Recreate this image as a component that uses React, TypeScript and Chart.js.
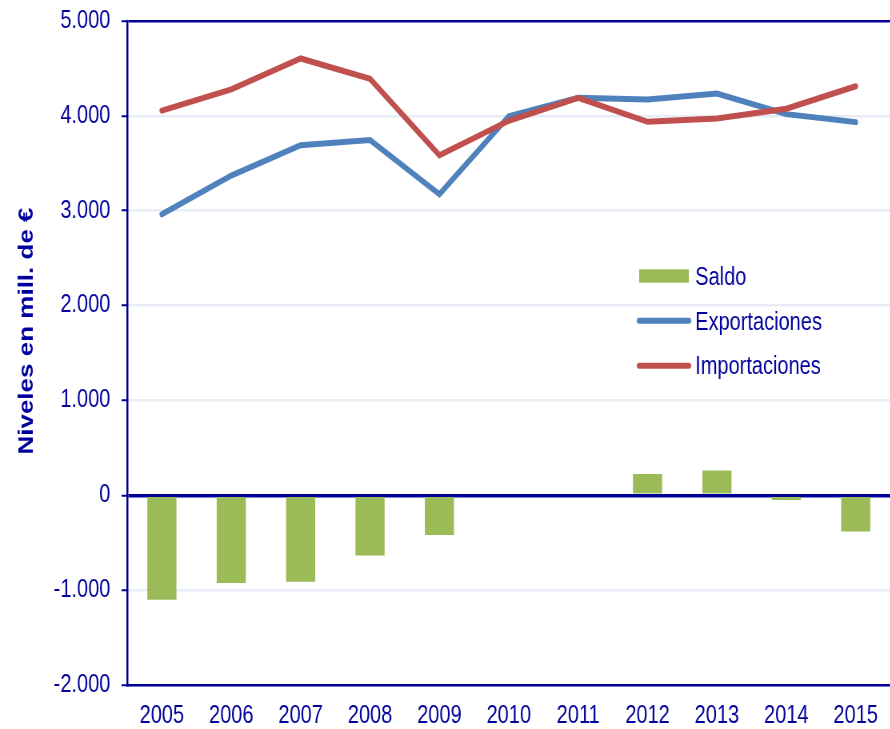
import React, { useEffect, useRef } from 'react';
import { Chart, registerables } from 'chart.js';

Chart.register(...registerables);

// ---- data ----
const years = ['2005', '2006', '2007', '2008', '2009', '2010', '2011', '2012', '2013', '2014', '2015'];
const saldo = [-1100, -925, -912, -636, -418, 20, 0, 225, 260, -50, -383];
const exportaciones = [2962, 3370, 3690, 3745, 3173, 3995, 4190, 4172, 4236, 4018, 3934];
const importaciones = [4055, 4280, 4605, 4390, 3584, 3948, 4190, 3937, 3972, 4075, 4312];
const seriesNames = ['Saldo', 'Exportaciones', 'Importaciones'];
const yMin = -2000;
const yMax = 5000;
const yStep = 1000;
const yTitle = 'Niveles en mill. de €';

// ---- styling ----
const SX = 0.8; // the reference is horizontally condensed
const OUT_W = 890;
const OUT_H = 729;
const W = Math.round(OUT_W / SX);
const H = OUT_H;
const FONT = '"Liberation Sans", Arial, Helvetica, sans-serif';
const AXIS = '#000099';
const TEXT = '#00009C';
const GRID = '#E8EDF5';
const GREEN = '#9BBB59';
const BLUE = '#4F81BD';
const RED = '#C0504D';

const fmt = (v: number) => {
  const s = Math.abs(v).toString().replace(/\B(?=(\d{3})+(?!\d))/g, '.');
  return (v < 0 ? '-' : '') + s;
};

const decorPlugin = {
  id: 'decor',
  afterDraw(chart: any) {
    const ctx = chart.ctx;
    ctx.save();
    // y axis title
    ctx.save();
    ctx.translate(41, 331);
    ctx.rotate(-Math.PI / 2);
    ctx.font = `bold 26px ${FONT}`;
    ctx.fillStyle = TEXT;
    ctx.textAlign = 'center';
    ctx.textBaseline = 'alphabetic';
    ctx.fillText(yTitle, 0, 0);
    ctx.restore();

    // legend inside the plot
    const rows = [
      { mid: 276, base: 285 },
      { mid: 320.7, base: 329.5 },
      { mid: 365.7, base: 374 },
    ];
    const x0 = 799;
    const x1 = 861;
    chart.data.datasets.forEach((ds: any, i: number) => {
      const r = rows[i];
      if (!r) return;
      if (ds.type === 'bar' || !ds.type) {
        ctx.fillStyle = ds.backgroundColor;
        ctx.fillRect(x0, r.mid - 6.7, x1 - x0, 13.4);
      } else {
        ctx.strokeStyle = ds.borderColor;
        ctx.lineWidth = 6;
        ctx.lineCap = 'round';
        ctx.beginPath();
        ctx.moveTo(x0, r.mid);
        ctx.lineTo(x1, r.mid);
        ctx.stroke();
      }
      ctx.font = `25px ${FONT}`;
      ctx.fillStyle = TEXT;
      ctx.textAlign = 'left';
      ctx.textBaseline = 'alphabetic';
      ctx.fillText(ds.label, 869, r.base);
    });
    ctx.restore();
  },
};

export default function App() {
  const ref = useRef<HTMLCanvasElement | null>(null);

  useEffect(() => {
    document.body.style.margin = '0';
    if (!ref.current) return;
    const chart = new Chart(ref.current, {
      type: 'bar',
      data: {
        labels: years,
        datasets: [
          {
            type: 'bar',
            label: seriesNames[0],
            data: saldo,
            backgroundColor: GREEN,
            borderWidth: 0,
            barPercentage: 0.42,
            categoryPercentage: 1,
            order: 3,
          },
          {
            type: 'line',
            label: seriesNames[1],
            data: exportaciones,
            borderColor: BLUE,
            backgroundColor: BLUE,
            borderWidth: 6,
            borderCapStyle: 'round',
            pointRadius: 0,
            tension: 0,
            order: 2,
          },
          {
            type: 'line',
            label: seriesNames[2],
            data: importaciones,
            borderColor: RED,
            backgroundColor: RED,
            borderWidth: 6,
            borderCapStyle: 'round',
            pointRadius: 0,
            tension: 0,
            order: 1,
          },
        ] as any,
      },
      options: {
        responsive: false,
        animation: false,
        devicePixelRatio: 1,
        layout: { autoPadding: false, padding: { top: 21, right: 0, bottom: 0, left: 0 } },
        plugins: {
          legend: { display: false },
          tooltip: { enabled: false },
        },
        scales: {
          x: {
            offset: true,
            grid: { display: false, drawTicks: false },
            border: { display: true, color: AXIS, width: 2.5 },
            ticks: {
              color: TEXT,
              font: { family: FONT, size: 25 },
              padding: 16,
              maxRotation: 0,
              autoSkip: false,
            },
            afterFit: (s: any) => {
              s.height = 44;
              s.paddingLeft = 0;
              s.paddingRight = 0;
            },
          },
          y: {
            min: yMin,
            max: yMax,
            grid: {
              color: (c: any) => (c.tick && (c.tick.value === 0 || c.tick.value === yMax) ? AXIS : GRID),
              lineWidth: (c: any) => (c.tick && c.tick.value === 0 ? 3.5 : 2.5),
              tickColor: AXIS,
              tickWidth: 2,
              tickLength: 7,
            },
            border: { display: true, color: AXIS, width: 2.5 },
            ticks: {
              stepSize: yStep,
              color: TEXT,
              font: { family: FONT, size: 25 },
              padding: 14,
              callback: (v: any) => fmt(Number(v)),
            },
            afterFit: (s: any) => {
              s.width = 159;
              s.paddingTop = 0;
              s.paddingBottom = 0;
            },
          },
        },
      },
      plugins: [decorPlugin],
    });
    return () => chart.destroy();
  }, []);

  return (
    <div style={{ width: OUT_W, height: OUT_H, overflow: 'hidden', position: 'relative', background: '#fff' }}>
      <div style={{ width: W, height: H, transform: `scaleX(${SX})`, transformOrigin: '0 0' }}>
        <canvas ref={ref} width={W} height={H} style={{ display: 'block', width: W, height: H }} />
      </div>
    </div>
  );
}
